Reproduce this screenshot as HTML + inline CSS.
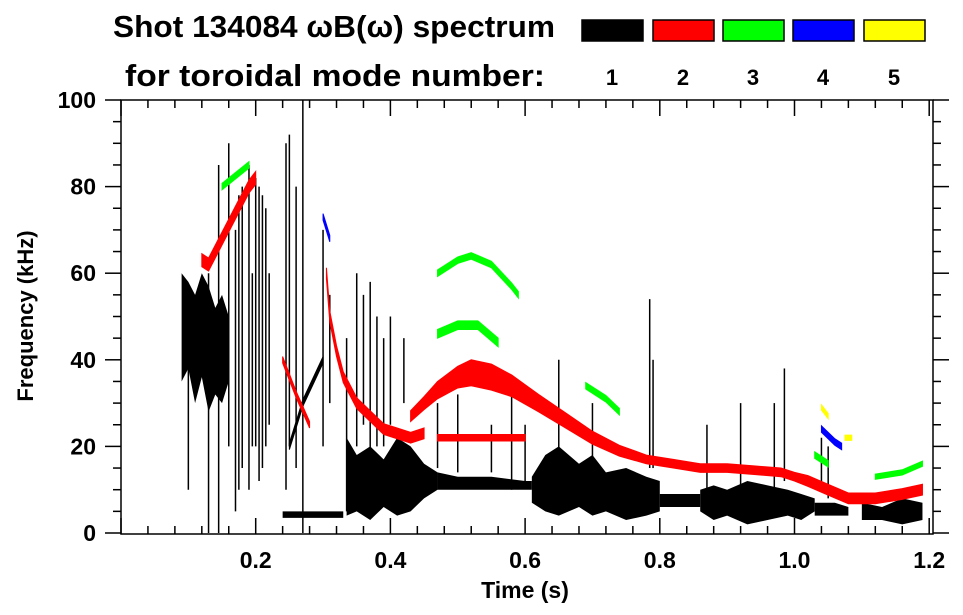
<!DOCTYPE html>
<html><head><meta charset="utf-8"><style>
html,body{margin:0;padding:0;background:#fff;}
svg{display:block;font-family:"Liberation Sans",Arial,sans-serif;font-weight:bold;}
</style></head><body>
<svg id="chart" width="963" height="615" viewBox="0 0 963 615" xmlns="http://www.w3.org/2000/svg">
<text x="113" y="37" font-size="31" textLength="442" lengthAdjust="spacingAndGlyphs">Shot 134084 ωB(ω) spectrum</text>
<text x="125" y="86" font-size="31" textLength="420" lengthAdjust="spacingAndGlyphs">for toroidal mode number:</text>
<g id="legend"></g>
<g id="marks"></g>
<g id="axes"></g>
<text x="525" y="598" font-size="23" text-anchor="middle">Time (s)</text>
<text transform="translate(33,316) rotate(-90)" font-size="22" text-anchor="middle">Frequency (kHz)</text>
</svg>
<script>
const NS='http://www.w3.org/2000/svg';
const modeLabels=['1','2','3','4','5'];
const modeColors=['#000000','#ff0000','#00ff00','#0000ff','#ffff00'];
const xTicks=[0.2,0.4,0.6,0.8,1.0,1.2];
const xTickLabels=['0.2','0.4','0.6','0.8','1.0','1.2'];
const yTicks=[0,20,40,60,80,100];
const yTickLabels=['0','20','40','60','80','100'];
// black (n=1) bands: times, upper, lower freq
const bandT=[[0.09,0.1,0.11,0.12,0.13,0.14,0.15,0.16],[0.335,0.35,0.37,0.39,0.41,0.43,0.45,0.47],[0.47,0.5,0.55,0.6,0.61],[0.61,0.63,0.65,0.68,0.7,0.72,0.75,0.78,0.8],[0.8,0.83,0.86],[0.86,0.88,0.9,0.93,0.96,0.99,1.01,1.03],[1.03,1.06,1.08],[1.1,1.13,1.16,1.19],[0.24,0.33]];
const bandHi=[[60,58,55,60,57,52,55,50],[22,18,20,17,22,20,16,14],[14,13,13,12,12],[13,18,20,16,18,14,15,13,12],[9,9,9],[10,11,10,12,11,10,9,8],[7,7,6],[7,6,8,7],[5,5]];
const bandLo=[[35,38,30,36,28,32,30,35],[4,5,3,6,4,5,8,10],[10,10,10,10,10],[7,5,4,6,4,5,3,4,5],[6,6,6],[5,3,4,2,3,4,3,5],[4,4,4],[3,3,2,3],[3.5,3.5]];
// black spikes
const spikeT=[0.1,0.13,0.145,0.16,0.17,0.175,0.18,0.19,0.195,0.2,0.205,0.21,0.215,0.22,0.245,0.25,0.26,0.27,0.3,0.31,0.335,0.35,0.36,0.37,0.38,0.39,0.4,0.42,0.47,0.5,0.55,0.58,0.6,0.65,0.7,0.785,0.79,0.87,0.92,0.97,0.985,1.04,1.05];
const spikeLo=[10,0,0,20,5,10,15,10,20,20,12,15,20,25,10,20,15,0,20,30,5,20,25,15,20,20,25,30,15,14,14,10,12,10,15,15,15,10,10,10,12,10,8];
const spikeHi=[50,60,85,90,70,78,80,85,60,82,80,78,75,60,90,92,80,100,70,55,45,60,55,58,50,45,50,45,30,32,25,35,25,40,30,54,40,25,30,30,38,22,20];
// mode traces: mode index, times, freqs, widths (kHz)
const traceMode=[0,1,1,1,1,1,2,2,2,2,2,2,3,3,4,4];
const traceT=[[0.25,0.27,0.3],[0.12,0.13,0.15,0.17,0.19,0.2],[0.305,0.31,0.32,0.33,0.35,0.37,0.39,0.41,0.43,0.45],[0.43,0.45,0.47,0.5,0.52,0.55,0.58,0.62,0.66,0.7,0.74,0.78,0.82,0.86,0.9,0.94,0.98,1.0,1.02,1.05,1.08,1.12,1.16,1.19],[0.47,0.6],[0.24,0.26,0.28],[0.47,0.5,0.52,0.55,0.58,0.59],[0.47,0.5,0.53,0.56],[0.69,0.72,0.74],[1.03,1.05],[1.12,1.16,1.19],[0.15,0.19],[1.04,1.06,1.07],[0.3,0.31],[1.04,1.05],[1.075,1.085]];
const traceF=[[20,30,40],[63,62,68,74,80,82],[60,50,42,36,30,27,24,23,22,23],[27,30,33,36,37,36,34,30,26,22,19,17,16,15,15,14.5,14,13,12,10,8,8,9,10],[22,22],[40,32,25],[60,63,64,62,57,55],[46,48,48,44],[34,31,28],[18,16],[13,14,16],[80,85],[24,21,20],[73,68],[29,27],[22,22]];
const traceW=[[1.5,1.5,1.5],[3,3,3,3,3,3],[2.5,2.5,2.5,2.5,2.5,2.5,2.5,2.5,2.5,2.5],[2.5,3,4,5,6,6,5,4,3.5,3,2.5,2,2,2,2,2,2,2,2.5,2.5,2.5,2.5,2.5,2.5],[1.5,1.5],[1.5,1.5,1.5],[1.5,1.5,1.5,1.5,1.5,1.5],[2,2,2,2],[1.5,1.5,1.5],[1.5,1.5],[1.2,1.2,1.2],[1.5,1.5],[1.5,1.5,1.5],[1.5,1.5],[1.2,1.2],[1.2,1.2]];

const X=t=>121+673.5*t, Y=f=>533-4.33*f;
const L=121,R=933,T=100,B=534;
function mk(tag,attrs,parent){const e=document.createElementNS(NS,tag);for(const k in attrs)e.setAttribute(k,attrs[k]);parent.appendChild(e);return e;}
const leg=document.getElementById('legend'),marks=document.getElementById('marks'),axes=document.getElementById('axes');
const lx=[582,653,723,793,864];
modeLabels.forEach((m,i)=>{
  const r=mk('rect',{x:lx[i],y:20,width:61,height:21,fill:modeColors[i],stroke:'#000','stroke-width':1.5},leg);
  
  
  const t=mk('text',{x:lx[i]+30,y:85,'font-size':22,'text-anchor':'middle'},leg);t.textContent=m;
  
  
});
bandT.forEach((ts,i)=>{
  const pts=ts.map((t,j)=>X(t)+','+Y(bandHi[i][j])).concat(ts.map((t,j)=>X(t)+','+Y(bandLo[i][j])).reverse());
  const p=mk('polygon',{points:pts.join(' '),fill:'#000'},marks);
  
  
});
spikeT.forEach((t,i)=>{
  const l=mk('line',{x1:X(t),x2:X(t),y1:Y(spikeLo[i]),y2:Y(spikeHi[i]),stroke:'#000','stroke-width':1.5},marks);
  
  
});
traceT.forEach((ts,i)=>{
  const pts=ts.map((t,j)=>X(t)+','+Y(traceF[i][j]+traceW[i][j]/2)).concat(ts.map((t,j)=>X(t)+','+Y(traceF[i][j]-traceW[i][j]/2)).reverse());
  const c=modeColors[traceMode[i]];
  const p=mk('polygon',{points:pts.join(' '),fill:c,stroke:c,'stroke-width':1},marks);
  
  
});
mk('rect',{x:L,y:T,width:R-L,height:B-T,fill:'none',stroke:'#000','stroke-width':1.5},axes);
for(let t=0;t<=1.2001;t+=0.04){
  const major=Math.abs(t/0.2-Math.round(t/0.2))<1e-6, len=major?16:8, x=X(t);
  mk('line',{x1:x,x2:x,y1:B,y2:B-len,stroke:'#000','stroke-width':1.5},axes);
  mk('line',{x1:x,x2:x,y1:T,y2:T+len,stroke:'#000','stroke-width':1.5},axes);
}
for(let f=0;f<=100;f+=5){
  const major=f%20===0,len=major?16:8,y=Y(f);
  mk('line',{x1:L,x2:L-len,y1:y,y2:y,stroke:'#000','stroke-width':1.5},axes);
  mk('line',{x1:R,x2:R+len,y1:y,y2:y,stroke:'#000','stroke-width':1.5},axes);
}
xTicks.forEach((t,i)=>{const e=mk('text',{x:X(t),y:568,'font-size':23,'text-anchor':'middle'},axes);e.textContent=xTickLabels[i];
  
  });
yTicks.forEach((f,i)=>{const e=mk('text',{x:96,y:Y(f)+8,'font-size':23,'text-anchor':'end'},axes);e.textContent=yTickLabels[i];
  
  });
</script>
</body></html>
